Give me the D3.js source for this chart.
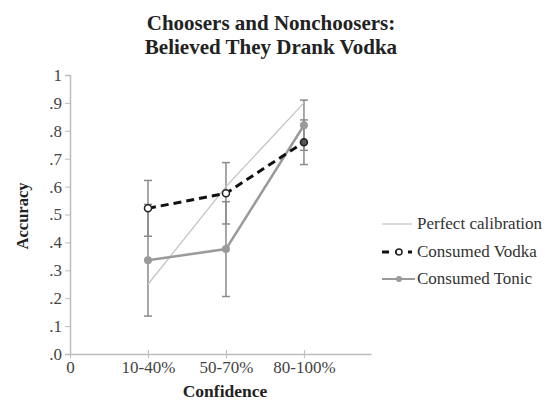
<!DOCTYPE html>
<html>
<head>
<meta charset="utf-8">
<script src="https://cdn.jsdelivr.net/npm/d3@7"></script>
<style>
body { margin: 0; background: #fff; }
text { font-family: "Liberation Serif", serif; }
</style>
</head>
<body>
<svg id="chart" width="549" height="401"></svg>
<script>
var categories = ["10-40%", "50-70%", "80-100%"];
var perfect = [0.25, 0.6, 0.9];
var vodka = [0.522, 0.576, 0.759];
var vodkaErr = [0.1, 0.11, 0.08];
var tonic = [0.336, 0.376, 0.82];
var tonicErr = [0.2, 0.17, 0.09];
var yTicks = [0, 0.1, 0.2, 0.3, 0.4, 0.5, 0.6, 0.7, 0.8, 0.9, 1];
var legendNames = ["Perfect calibration", "Consumed Vodka", "Consumed Tonic"];

var svg = d3.select("#chart");

var x = d3.scaleLinear().domain([0, 3.86]).range([70, 371]);
var y = d3.scaleLinear().domain([0, 1]).range([354, 75]);

var axisColor = "#bdbdbd";
var serif = "'Liberation Serif', serif";

// title
svg.append("text")
    .attr("x", 271).attr("y", 30)
    .attr("text-anchor", "middle")
    .style("font-family", serif)
    .style("font-size", "21px").style("font-weight", "bold").style("fill", "#222")
    .text("Choosers and Nonchoosers:");
svg.append("text")
    .attr("x", 271).attr("y", 54)
    .attr("text-anchor", "middle")
    .style("font-family", serif)
    .style("font-size", "21px").style("font-weight", "bold").style("fill", "#222")
    .text("Believed They Drank Vodka");

// y axis
var yAxis = svg.append("g")
    .attr("transform", "translate(70,0)")
    .call(d3.axisLeft(y).tickValues(yTicks).tickSize(5).tickPadding(3)
      .tickFormat(function(d) { return d === 1 ? "1" : d3.format(".1f")(d).replace(/^0/, ""); }));
yAxis.attr("font-family", null);
yAxis.select(".domain").attr("stroke", axisColor).attr("stroke-width", 1.5);
yAxis.selectAll(".tick line").attr("stroke", axisColor);
yAxis.selectAll(".tick text")
    .style("font-family", serif).style("font-size", "17px").style("fill", "#444");

// x axis
var xAxis = svg.append("g")
    .attr("transform", "translate(0,354)")
    .call(d3.axisBottom(x).tickValues([0, 1, 2, 3]).tickSize(4).tickSizeOuter(0).tickPadding(3)
      .tickFormat(function(d) { return d === 0 ? "0" : categories[d - 1]; }));
xAxis.attr("font-family", null);
xAxis.select(".domain").attr("stroke", axisColor).attr("stroke-width", 1.5);
xAxis.selectAll(".tick line").attr("stroke", axisColor).attr("y1", -4);
xAxis.selectAll(".tick text")
    .style("font-family", serif).style("font-size", "17px").style("fill", "#444");

svg.append("text")
    .attr("x", 225).attr("y", 397)
    .attr("text-anchor", "middle")
    .style("font-family", serif)
    .style("font-size", "17.5px").style("font-weight", "bold").style("fill", "#222")
    .text("Confidence");

svg.append("text")
    .attr("transform", "translate(28,216) rotate(-90)")
    .attr("text-anchor", "middle")
    .style("font-family", serif)
    .style("font-size", "16.5px").style("font-weight", "bold").style("fill", "#222")
    .text("Accuracy");

// error bars
function errorBars(vals, errs, cls) {
  var g = svg.append("g").attr("class", cls);
  vals.forEach(function(v, i) {
    var cx = x(i + 1);
    g.append("line").attr("x1", cx).attr("x2", cx)
      .attr("y1", y(v - errs[i])).attr("y2", y(v + errs[i]))
      .attr("stroke", "#8a8a8a").attr("stroke-width", 1.5);
    [v - errs[i], v + errs[i]].forEach(function(e) {
      g.append("line").attr("x1", cx - 4).attr("x2", cx + 4)
        .attr("y1", y(e)).attr("y2", y(e))
        .attr("stroke", "#8a8a8a").attr("stroke-width", 1.5);
    });
  });
}
errorBars(tonic, tonicErr, "err-tonic");
errorBars(vodka, vodkaErr, "err-vodka");

var line = d3.line()
    .x(function(d, i) { return x(i + 1); })
    .y(function(d) { return y(d); });

svg.append("path").datum(perfect)
    .attr("d", line).attr("fill", "none")
    .attr("stroke", "#c4c4c4").attr("stroke-width", 1.3);

svg.append("path").datum(tonic)
    .attr("d", line).attr("fill", "none")
    .attr("stroke", "#9a9a9a").attr("stroke-width", 2.5);

svg.selectAll(".tonic-dot").data(tonic).enter().append("circle")
    .attr("class", "tonic-dot")
    .attr("cx", function(d, i) { return x(i + 1); })
    .attr("cy", function(d) { return y(d); })
    .attr("r", 4).attr("fill", "#9a9a9a");

svg.append("path").datum(vodka)
    .attr("d", line).attr("fill", "none")
    .attr("stroke", "#111").attr("stroke-width", 3)
    .style("stroke-dasharray", "8,5");

svg.selectAll(".vodka-dot").data(vodka).enter().append("circle")
    .attr("class", "vodka-dot")
    .attr("cx", function(d, i) { return x(i + 1); })
    .attr("cy", function(d) { return y(d); })
    .attr("r", 3.5).attr("fill", function(d, i) { return i === 2 ? "#555" : "#fff"; })
    .attr("stroke", "#222").attr("stroke-width", 1.5);

// legend
var legend = svg.append("g").attr("transform", "translate(382,0)");
var rowY = [224, 252, 279];

legend.append("line").attr("x1", 0).attr("x2", 30).attr("y1", rowY[0]).attr("y2", rowY[0])
    .attr("stroke", "#c4c4c4").attr("stroke-width", 1.3);

legend.append("line").attr("x1", 0).attr("x2", 30).attr("y1", rowY[1]).attr("y2", rowY[1])
    .attr("stroke", "#111").attr("stroke-width", 3).style("stroke-dasharray", "7,6");
legend.append("circle").attr("cx", 17).attr("cy", rowY[1]).attr("r", 3)
    .attr("fill", "#fff").attr("stroke", "#222").attr("stroke-width", 1.5);

legend.append("line").attr("x1", 0).attr("x2", 33).attr("y1", rowY[2]).attr("y2", rowY[2])
    .attr("stroke", "#9a9a9a").attr("stroke-width", 2);
legend.append("circle").attr("cx", 17).attr("cy", rowY[2]).attr("r", 3).attr("fill", "#9a9a9a");

legend.selectAll(".legend-text").data(legendNames).enter().append("text")
    .attr("class", "legend-text")
    .attr("x", 35)
    .attr("y", function(d, i) { return rowY[i] + 5; })
    .style("font-family", serif)
    .style("font-size", "17px").style("fill", "#333")
    .text(function(d) { return d; });
</script>
</body>
</html>
